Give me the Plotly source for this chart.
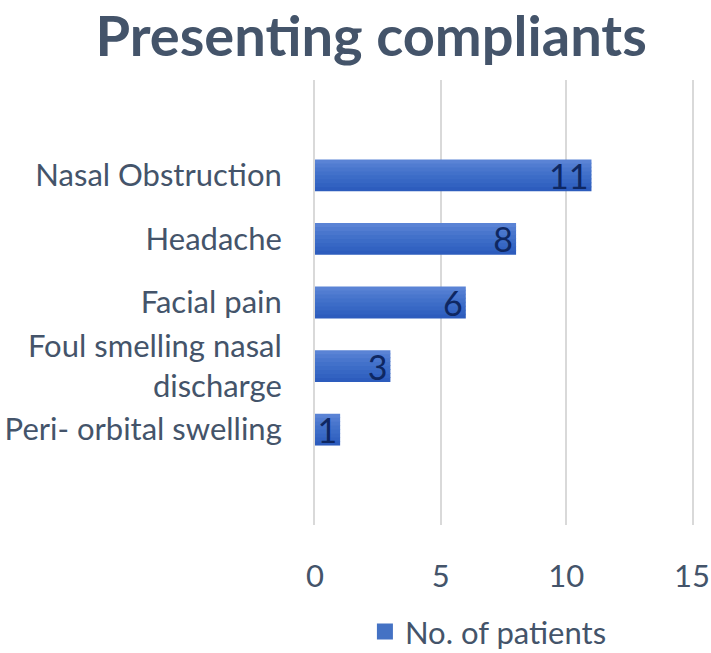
import plotly.graph_objects as go

categories = ["Peri- orbital swelling", "Foul smelling nasal<br>discharge", "Facial pain", "Headache", "Nasal Obstruction"]
values = [1, 3, 6, 8, 11]
series_name = "No. of patients"
x_ticks = [0, 5, 10, 15]

text_col = "#44546A"
fnt = "Lato, Open Sans, sans-serif"

# vertical gradient (bottom dark -> top light) built from overlaid stripes
stripe_cols = ["#2D5CBD", "#3262C1", "#3767C4", "#3C6CC7", "#4271CA", "#4976CD", "#517CD1", "#5A83D5"]
n = len(stripe_cols)
bw = 0.5

fig = go.Figure()
for i, c in enumerate(stripe_cols):
    w = bw / n if i == n - 1 else bw / n + 0.012
    fig.add_trace(go.Bar(
        y=categories, x=values, orientation="h", showlegend=False,
        width=w, offset=-bw / 2 + i * bw / n,
        marker=dict(color=c, line=dict(width=0)), hoverinfo="skip",
    ))
fig.add_trace(go.Bar(
    y=categories, x=values, orientation="h", name=series_name, showlegend=False,
    width=bw, marker=dict(color="rgba(0,0,0,0)", line=dict(width=0)),
    text=[str(v) for v in values], textposition="inside", insidetextanchor="end",
    textangle=0, constraintext="none",
    textfont=dict(color="#0E2762", size=34, family=fnt),
))
fig.add_trace(go.Scatter(
    x=[None], y=[None], mode="markers", name=series_name,
    marker=dict(symbol="square", size=20, color="#4472C4"),
))
fig.update_layout(
    width=711, height=653,
    paper_bgcolor="white", plot_bgcolor="white",
    margin=dict(l=315, r=19, t=80, b=128, autoexpand=False),
    barmode="overlay",
    title=dict(text="<b>Presenting compliants</b>", x=0.522, xanchor="center", y=0.945, yanchor="middle",
               font=dict(size=56, color=text_col, family=fnt)),
    xaxis=dict(range=[0, 15], tickvals=x_ticks, showgrid=True, gridcolor="#D9D9D9", gridwidth=2,
               zeroline=False, showline=False, automargin=False,
               tickfont=dict(size=31, color=text_col, family=fnt),
               ticks="outside", ticklen=24, tickcolor="rgba(0,0,0,0)"),
    yaxis=dict(range=[-1.5, 5.5], showgrid=False, zeroline=False,
               showline=True, mirror=True, linecolor="#D9D9D9", linewidth=2, automargin=False,
               tickfont=dict(size=31, color=text_col, family=fnt),
               ticks="outside", ticklen=25, tickcolor="rgba(0,0,0,0)"),
    showlegend=True,
    legend=dict(orientation="h", x=0.46, xanchor="center", y=-0.24, yanchor="middle",
                font=dict(size=31, color=text_col, family=fnt), itemsizing="trace"),
)
fig.write_html("out.html", config={"displayModeBar": False},
               post_script="document.body.style.margin='0';document.body.style.overflow='hidden';")
